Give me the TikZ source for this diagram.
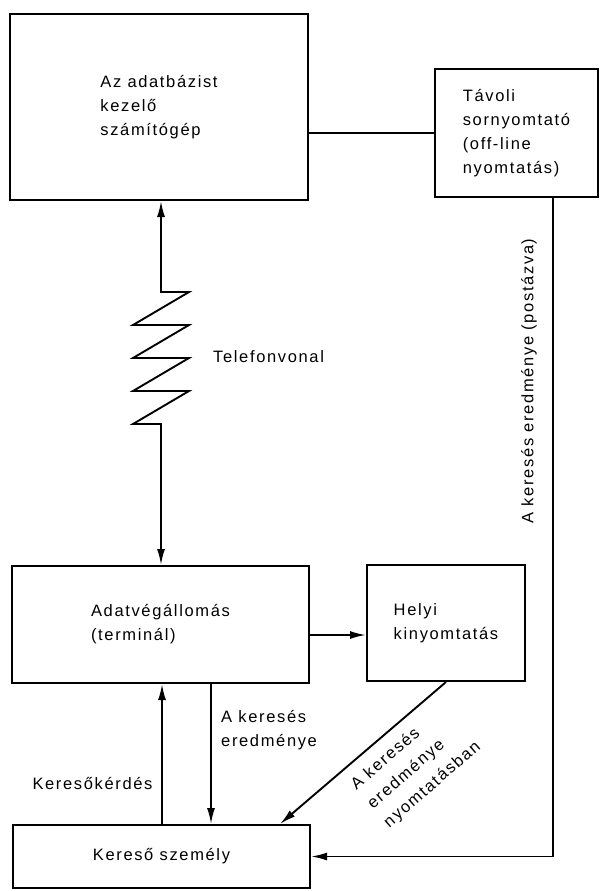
\documentclass[tikz,border=0pt]{standalone}
\usepackage{fontspec}
\setmainfont{Liberation Sans}[LetterSpace=10]
\usetikzlibrary{arrows.meta}
\newcommand\lblfont{\fontsize{16.5}{24}\selectfont}
\begin{document}
\begin{tikzpicture}[x=1pt,y=-1pt,
  box/.style={draw, line width=2pt, align=left, inner sep=0pt, font=\lblfont},
  lbl/.style={inner sep=0pt, align=left, font=\lblfont},
  conn/.style={line width=1.9pt},
  tip/.tip={Latex[length=16pt,width=8pt]},
  arr/.style={conn, -tip},
  darr/.style={conn, tip-tip}
]
\fill[white] (0,0) rectangle (601,891);
\useasboundingbox (0,0) rectangle (601,891);

% boxes
\node[box, minimum width=298pt, minimum height=186pt] (comp) at (159,107) {Az adatbázist\\kezelő\\számítógép};
\node[box, minimum width=163pt, minimum height=128pt] (printer) at (516.5,133) {Távoli\\sornyomtató\\(off-line\\nyomtatás)};
\node[box, minimum width=297pt, minimum height=117pt] (term) at (160.5,624.5) {Adatvégállomás\\(terminál)};
\node[box, minimum width=158pt, minimum height=116pt] (local) at (446,623) {Helyi\\kinyomtatás};
\node[box, minimum width=297pt, minimum height=63pt] (person) at (161.5,856.5) {Kereső személy};

% helper coordinates
\coordinate (tel) at (161,0);
\coordinate (up) at (162,0);
\coordinate (down) at (211,0);
\coordinate (diag) at (280,0);
\coordinate (post) at (553,0);

% connectors
\draw[conn] (printer.west) -- (printer.west -| comp.east);
\draw[darr] (tel |- comp.south) -- (161,292) -- (189,292) -- (133,325) -- (189,325)
  -- (133,358) -- (189,358) -- (133,391) -- (189,391) -- (133,424) -- (161,424)
  -- (tel |- term.north);
\draw[arr] ([yshift=-10.5pt]term.east) -- ([yshift=-10.5pt]term.east -| local.west);
\draw[arr] (up |- person.north) -- (up |- term.south);
\draw[arr] (down |- term.south) -- (down |- person.north);
\draw[arr] (local.south) -- (diag |- person.north);
\draw[arr] (post |- printer.south) |- (person.east);

% labels
\node[lbl, anchor=west] (ltel) at (213,357) {Telefonvonal};
\node[lbl, anchor=west] (lres) at (221,730) {A keresés\\eredménye};
\node[lbl] (lq) at (92.5,783) {Keresőkérdés};
\node[lbl, rotate=90] (lpost) at (529,381) {A keresés eredménye (postázva)};
\node[lbl, rotate=41, anchor=west, font=\fontsize{16.5}{25}\selectfont] (lprint) at (370,806) {A keresés\\eredménye\\nyomtatásban};
\end{tikzpicture}
\end{document}
